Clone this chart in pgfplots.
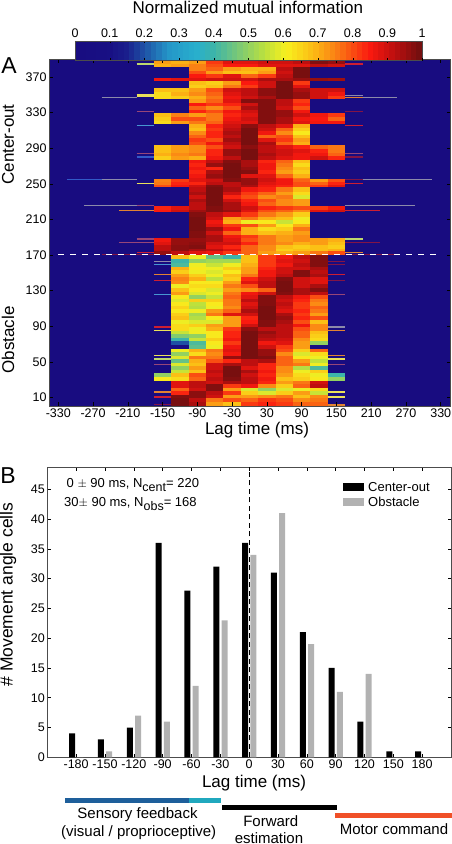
\documentclass[border=0pt]{standalone}
\usepackage{pgfplots}
\usepackage{pgfplotstable}
\pgfplotsset{compat=1.18}
\usepackage{fontspec}
\setmainfont{Liberation Sans}
\definecolor{navybg}{RGB}{24,12,128}
\definecolor{sgrey}{RGB}{140,138,170}
\definecolor{smauve}{RGB}{150,70,120}
\definecolor{sred}{RGB}{205,30,50}
\definecolor{sdark}{RGB}{130,20,70}
\definecolor{sorange}{RGB}{225,130,50}
\definecolor{sblue}{RGB}{70,150,210}
\definecolor{sdblue}{RGB}{50,90,200}
\definecolor{syellow}{RGB}{235,225,90}
\definecolor{sgreen}{RGB}{190,215,110}
\pgfplotsset{colormap={nmi}{
 rgb255(0)=(24,12,128) rgb255(10)=(24,16,132) rgb255(15)=(26,30,140) rgb255(20)=(30,80,165)
 rgb255(27)=(36,150,200) rgb255(35)=(40,175,205) rgb255(40)=(60,180,170) rgb255(47)=(120,200,120)
 rgb255(55)=(190,225,60) rgb255(61)=(248,240,30) rgb255(69)=(252,185,20) rgb255(76)=(250,120,20)
 rgb255(85)=(250,25,15) rgb255(92)=(190,15,15) rgb255(100)=(110,15,15)}}
\pgfplotstableread{
y a b c d e f g h i j k
389 72 70 72 82 88 88 90 90 92 98 96
385 70 72 75 80 85 85 88 88 88 92 90
381 0 0 75 78 72 70 70 92 99 0 0
377 0 0 80 72 68 68 72 90 99 0 0
373 0 0 85 82 88 78 82 92 99 0 0
369 86 88 88 90 90 90 94 94 96 96 95
365 0 0 68 66 72 85 90 99 82 0 0
361 0 0 66 68 76 82 90 99 88 0 0
357 68 68 72 80 90 92 97 99 94 90 90
353 64 70 74 78 88 92 97 99 96 90 86
349 64 66 70 76 86 90 94 99 96 90 82
345 0 0 72 78 88 98 98 92 82 0 0
341 0 0 85 82 84 90 98 92 84 0 0
337 0 0 78 74 80 94 98 90 80 0 0
333 0 0 84 80 86 90 98 96 86 0 0
329 68 75 72 76 84 88 98 96 90 86 82
325 66 80 80 76 86 90 98 94 86 85 78
321 64 72 76 78 88 88 98 94 88 86 86
317 0 0 70 84 90 97 92 88 70 0 0
313 0 0 68 82 92 99 90 78 66 0 0
309 0 0 74 84 94 99 86 74 62 0 0
305 0 0 78 84 92 99 78 80 68 0 0
301 0 0 82 80 95 99 88 82 72 0 0
297 0 0 80 86 92 99 94 78 70 0 0
293 68 72 74 80 90 97 92 88 84 78 76
289 68 72 74 84 96 99 92 90 88 84 76
285 70 74 76 84 96 99 94 90 86 86 78
281 66 72 70 86 92 99 92 88 86 90 84
277 0 0 86 92 98 94 84 78 68 0 0
273 0 0 84 96 99 94 86 76 64 0 0
269 0 0 86 84 99 96 86 74 68 0 0
265 0 0 84 94 99 98 84 72 66 0 0
261 0 0 86 96 99 88 88 78 70 0 0
257 0 0 88 94 98 96 90 84 76 0 0
255 75 82 88 90 98 96 90 86 78 72 80
252 76 84 84 92 92 96 88 86 80 78 84
249 80 86 90 98 92 94 86 84 80 82 88
246 0 0 92 99 94 86 84 76 68 0 0
241 0 0 94 99 90 82 78 72 64 0 0
237 0 0 90 99 84 80 74 76 58 0 0
233 0 0 94 99 90 84 80 74 72 0 0
229 0 0 92 99 94 86 78 74 72 0 0
225 84 88 92 98 94 90 84 82 80 82 86
221 85 90 95 98 96 88 80 78 74 88 90
218 0 0 98 92 88 82 76 72 66 0 0
213 0 0 99 90 72 76 70 68 60 0 0
209 0 0 99 86 70 60 62 56 62 0 0
205 0 0 99 88 82 80 72 62 70 0 0
201 0 0 99 95 86 70 64 66 76 0 0
197 0 0 98 90 78 70 68 70 72 0 0
193 0 0 98 94 86 82 76 72 74 0 0
189 86 96 96 94 88 80 76 72 74 72 70
185 88 96 97 90 90 84 76 74 70 72 68
181 92 97 98 88 84 78 74 68 66 68 66
177 92 97 94 92 88 78 74 66 68 68 70
174 96 92 88 86 82 78 72 70 72 76 80
170.5 0 68 60 45 40 68 82 86 92 98 0
165 0 40 50 52 52 68 82 88 90 98 0
161 0 42 60 56 60 70 82 86 92 98 0
157 0 70 62 60 66 72 84 90 90 94 0
153 0 66 60 58 62 72 86 90 98 92 0
149 0 72 66 60 68 76 86 92 98 94 0
145 0 75 70 55 66 84 90 98 90 88 0
141 0 74 62 62 72 88 92 99 90 88 0
137 0 60 64 64 76 80 92 99 90 94 0
133 0 68 62 58 72 74 78 99 94 98 0
129 0 72 58 60 76 86 90 98 94 92 0
125 0 62 50 56 78 88 98 92 86 80 0
121 0 58 66 66 76 92 98 90 84 76 0
117 0 62 55 62 76 88 98 92 82 74 0
113 0 65 54 60 74 90 99 90 82 78 0
109 0 62 60 72 78 94 99 88 84 76 0
105 0 66 52 76 88 90 99 94 82 72 0
101 0 68 54 62 72 84 99 96 84 80 0
97 0 60 58 58 72 85 98 94 80 68 0
93 0 64 66 72 72 90 98 92 86 74 0
89 0 64 60 70 82 97 92 92 80 74 0
85 0 56 60 62 84 99 96 92 78 68 0
81 0 48 50 62 84 99 94 92 78 66 0
77 0 40 56 66 86 99 92 90 74 64 0
73 0 20 42 62 82 99 86 88 72 50 0
69 0 6 44 60 86 99 90 82 72 5 0
65 0 60 70 76 88 99 96 80 66 78 0
61 0 50 64 74 86 99 96 74 58 64 0
57 0 58 76 76 96 99 98 78 62 60 0
53 0 45 70 80 84 92 94 78 72 55 0
49 0 58 68 90 94 92 84 78 76 60 0
45 0 50 72 90 99 88 84 74 54 42 0
41 0 56 68 92 99 94 86 74 60 66 0
37 50 68 80 90 99 90 84 72 64 60 40
33 62 64 78 92 98 92 86 68 66 62 50
29 0 88 92 90 94 92 84 72 76 90 0
25 0 88 92 98 82 86 74 66 78 92 0
21 0 78 90 98 72 58 50 58 60 64 0
17 0 84 97 92 82 66 58 66 72 56 0
13 0 98 97 90 72 72 74 76 68 74 0
9 0 99 92 76 80 78 82 80 74 76 0
5 0 99 94 72 68 82 84 82 78 78 0
0.5 0 0 0 0 0 0 0 0 0 0 0
}\tabA
\pgfplotstableread{
x c o
-180 4 0
-150 3 1
-120 5 7
-90 36 6
-60 28 12
-30 32 23
0 36 34
30 31 41
60 21 19
90 15 11
120 6 14
150 1 0
180 1 0
}\tabB
\newcommand\col[2]{\addplot[mesh,shader=flat corner,line width=17.45pt,line cap=butt,forget plot,point meta={\thisrow{#1}/100}] table[x expr=#2,y=y]{\tabA};}
\newcommand\st[5]{\addplot[color=#4,line width=#5pt,forget plot] coordinates {(#2,#1) (#3,#1)};}
\newcommand\T[4][]{\node[inner sep=0pt,#1] at ({#2pt},{(844-#3)*1pt}) {\fontsize{#4}{#4}\selectfont\TT};}
\newcommand\TX[4][]{\node[inner sep=0pt,#1] at ({#2pt},{(844-#3)*1pt}) {#4};}
\newcommand\fs[1]{\fontsize{#1}{#1}\selectfont}
\begin{document}
\begin{tikzpicture}[x=1pt,y=1pt]
\path[use as bounding box] (0,0) rectangle (452pt,844pt);
\begin{axis}[at={(49pt,438pt)},anchor=south west,scale only axis,width=401pt,height=346.5pt,
 xmin=-346,xmax=346,ymin=0.5,ymax=389.5,
 axis background/.style={fill=navybg},axis on top,
 axis line style={draw=black!70,line width=0.7pt},
 tick style={black,line width=0.5pt},tick align=inside,major tick length=3.5pt,
 xtick={-330,-270,-210,-150,-90,-30,30,90,150,210,270,330},
 xticklabels={-330,-270,-210,-150,-90,-30,30,90,150,210,270,330},
 ytick={10,50,90,130,170,210,250,290,330,370},
 tick label style={font=\fs{12.5}},
 /pgf/number format/assume math mode=true,
 xticklabel style={yshift=1pt},yticklabel style={xshift=1pt},
 colormap name=nmi,point meta min=0,point meta max=1,
 colorbar horizontal,colorbar sampled,
 colorbar style={at={(parent axis.north west)},anchor=south west,xshift=26pt,yshift=7.5pt,
  scale only axis,width=347pt,height=19.7pt,samples=65,
  xticklabel pos=upper,xtick={0,0.1,...,1},
  xticklabels={0,0.1,0.2,0.3,0.4,0.5,0.6,0.7,0.8,0.9,1},
  tick align=inside,major tick length=2.5pt,tick style={black},
  axis line style={draw=black!70},
  xticklabel style={font=\fs{12.5},yshift=0pt},ytick=\empty},
]
\col{a}{-150}\col{b}{-120}\col{c}{-90}\col{d}{-60}\col{e}{-30}\col{f}{0}\col{g}{30}\col{h}{60}\col{i}{90}\col{j}{120}\col{k}{150}
\st{388.5}{-195}{-165}{sgrey}{1.5}
\st{384.5}{-195}{-165}{sgreen}{2.5}
\st{384.5}{165}{195}{sred}{1.5}
\st{349}{-195}{-165}{syellow}{2.2}
\st{349}{165}{195}{sgrey}{1.2}
\st{347.2}{-255}{-195}{sgrey}{1.3}
\st{347.2}{165}{195}{sorange}{1.2}
\st{347.2}{195}{255}{sgrey}{1.3}
\st{331}{-195}{-165}{smauve}{1.2}
\st{331}{165}{195}{sdark}{1.2}
\st{315.8}{-195}{-165}{sblue}{1.2}
\st{315.8}{165}{195}{sred}{1.2}
\st{284}{-195}{-165}{smauve}{1.2}
\st{284}{165}{195}{smauve}{1.2}
\st{280}{-195}{-165}{sdblue}{1.2}
\st{280}{165}{195}{sdark}{1.2}
\st{254.7}{-315}{-255}{sdblue}{1.3}
\st{254.7}{-255}{-195}{sgrey}{1.3}
\st{254.7}{165}{195}{sdark}{1.3}
\st{254.7}{195}{315}{sgrey}{1.3}
\st{250.6}{-195}{-165}{syellow}{1.2}
\st{250.6}{165}{195}{sred}{1.2}
\st{225.2}{-285}{-195}{sgrey}{1.2}
\st{225.2}{-195}{-165}{smauve}{1.2}
\st{225.2}{165}{285}{sgrey}{1.2}
\st{220}{-225}{-165}{sorange}{1.3}
\st{220}{165}{225}{sred}{1.3}
\st{187.7}{-195}{-165}{smauve}{1.5}
\st{187.7}{165}{195}{sgreen}{2}
\st{183.6}{-225}{-165}{smauve}{1.2}
\st{183.6}{165}{225}{sdark}{1.2}
\st{172.8}{-195}{-165}{sred}{1.8}
\st{172.8}{165}{195}{sorange}{1.8}
\st{170.8}{-255}{-165}{sdark}{1.2}
\st{170.8}{165}{255}{sdark}{1.2}
\st{162.7}{-165}{-135}{sgrey}{1.2}
\st{162.7}{135}{165}{sdark}{1.2}
\st{159.7}{-165}{-135}{sblue}{1.2}
\st{159.7}{135}{165}{sdark}{1.2}
\st{148}{-165}{-135}{sorange}{1.2}
\st{148}{135}{165}{sred}{1.2}
\st{141.3}{-165}{-135}{sred}{1.2}
\st{141.3}{135}{165}{sdark}{1.2}
\st{125.3}{-165}{-135}{sblue}{1.3}
\st{125.3}{135}{165}{smauve}{1.3}
\st{89.3}{-165}{-135}{sred}{1.3}
\st{89.3}{135}{165}{sgrey}{1.5}
\st{85}{-165}{-135}{syellow}{1.5}
\st{85}{135}{165}{sorange}{1.5}
\st{57.5}{-165}{-135}{syellow}{1.2}
\st{57.5}{135}{165}{sorange}{1.2}
\st{53.5}{-165}{-135}{sgreen}{2}
\st{53.5}{135}{165}{syellow}{2.5}
\st{46.7}{-165}{-135}{smauve}{1.2}
\st{46.7}{135}{165}{smauve}{1.2}
\st{16.4}{-165}{-135}{sorange}{2}
\st{16.4}{135}{165}{syellow}{2}
\st{10.8}{-165}{-135}{sred}{1.5}
\st{10.8}{135}{165}{syellow}{1.5}
\st{2}{-165}{-135}{sdark}{1.5}
\st{2}{135}{165}{sorange}{2}
\draw[white,line width=1.6pt,dash pattern=on 6pt off 6pt] (axis cs:-330,170.5) -- (axis cs:330,170.5);
\end{axis}
\begin{axis}[at={(47.3pt,86.7pt)},anchor=south west,scale only axis,width=403.7pt,height=290pt,
 xmin=-210,xmax=210,ymin=0,ymax=48.7,
 ybar,bar width=6pt,
 axis line style={draw=black!70,line width=0.7pt},
 tick style={black,line width=0.5pt},tick align=inside,major tick length=3.5pt,
 xtick={-180,-150,-120,-90,-60,-30,0,30,60,90,120,150,180},
 xticklabels={-180,-150,-120,-90,-60,-30,0,30,60,90,120,150,180},
 ytick={0,5,...,45},
 tick label style={font=\fs{12.5}},
 /pgf/number format/assume math mode=true,
 xticklabel style={yshift=1pt},yticklabel style={xshift=1pt},
 legend style={at={(343pt-47.3pt,1pt)},draw=none,fill=none},
 legend image code/.code={},
 clip=false,
]
\addplot[fill=black,draw=none,bar shift=-4pt,forget plot] table[x=x,y=c]{\tabB};
\addplot[fill=black!30,draw=none,bar shift=4.2pt,forget plot] table[x=x,y=o]{\tabB};
\draw[black,line width=1.2pt,dash pattern=on 5pt off 3.5pt] (axis cs:0,0) -- (axis cs:0,48.7);
\end{axis}
% legend of panel B
\fill[black] (343pt,{(844-491)*1pt}) rectangle (364pt,{(844-483)*1pt});
\fill[black!30] (343pt,{(844-506)*1pt}) rectangle (364pt,{(844-498)*1pt});
\TX[anchor=west]{368}{487}{\fs{13}Center-out}
\TX[anchor=west]{368}{502}{\fs{13}Obstacle}
% colour band
\TX{247.8}{7.5}{\fs{17}Normalized mutual information}
\TX{9}{66}{\fs{23}A}
\TX{8}{476}{\fs{23}B}
\TX[rotate=90]{8}{144.5}{\fs{17}Center-out}
\TX[rotate=90]{8}{340}{\fs{17}Obstacle}
\TX[rotate=90]{8}{594.5}{\fs{17.5}\# Movement angle cells}
\TX{257}{430}{\fs{17}Lag time (ms)}
\TX{254}{783}{\fs{17}Lag time (ms)}
\TX[anchor=west]{66.5}{485}{\fs{13}0 $\pm$ 90 ms, N\raisebox{-3.5pt}{\fs{12.5}cent}= 220}
\TX[anchor=west]{64}{504}{\fs{13}30$\pm$ 90 ms, N\raisebox{-3.5pt}{\fs{12.5}obs}= 168}
% function bars
\fill[color={rgb,255:red,30;green,95;blue,155}] (65pt,{(844-803)*1pt}) rectangle (189pt,{(844-797.7)*1pt});
\fill[color={rgb,255:red,32;green,168;blue,190}] (189pt,{(844-803)*1pt}) rectangle (221pt,{(844-797.7)*1pt});
\fill[black] (222.3pt,{(844-810.4)*1pt}) rectangle (336.7pt,{(844-805)*1pt});
\fill[color={rgb,255:red,240;green,80;blue,40}] (334.7pt,{(844-818.3)*1pt}) rectangle (451.7pt,{(844-813)*1pt});
\TX{137.5}{815}{\fs{15}Sensory feedback}
\TX{138.7}{833}{\fs{15}(visual / proprioceptive)}
\TX{270.8}{820.7}{\fs{15}Forward}
\TX{269}{838}{\fs{15}estimation}
\TX{394}{829}{\fs{15}Motor command}
\end{tikzpicture}
\end{document}
